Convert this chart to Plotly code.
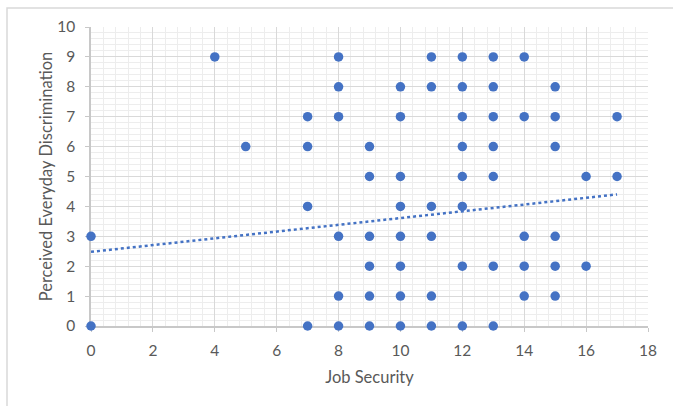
import plotly.graph_objects as go

# Survey responses: job security score vs perceived everyday discrimination
job_security = [
    4, 8, 11, 12, 13, 14,
    8, 10, 11, 12, 13, 15,
    7, 8, 10, 12, 13, 14, 15, 17,
    5, 7, 9, 12, 13, 15,
    9, 10, 12, 13, 16, 17,
    7, 10, 11, 12,
    0, 8, 9, 10, 11, 14, 15,
    9, 10, 12, 13, 14, 15, 16,
    8, 9, 10, 11, 14, 15,
    0, 7, 8, 9, 10, 11, 12, 13,
]
discrimination = (
    [9] * 6 + [8] * 6 + [7] * 8 + [6] * 6 + [5] * 6 + [4] * 4
    + [3] * 7 + [2] * 7 + [1] * 6 + [0] * 8
)

# Linear trendline fitted on the full (overlapping) sample
trend_intercept = 2.48
trend_slope = 0.113

x_ticks = list(range(0, 19, 2))
y_ticks = list(range(0, 11))

BLUE = "#4472C4"
TEXT = "#595959"
FONT = "Lato, 'Open Sans', sans-serif"

trend_x = [min(job_security), max(job_security)]
trend_y = [trend_intercept + trend_slope * v for v in trend_x]

fig = go.Figure()
fig.add_trace(go.Scatter(
    x=trend_x, y=trend_y, mode="lines",
    line=dict(color=BLUE, width=2.5, dash="dot"),
    showlegend=False,
))
fig.add_trace(go.Scatter(
    x=job_security, y=discrimination, mode="markers",
    marker=dict(color=BLUE, size=9.5, line=dict(width=0)),
    showlegend=False, cliponaxis=False,
))

grid_major = "#D9D9D9"
grid_minor = "#EDEDED"

fig.update_xaxes(
    range=[0, 18], tickvals=x_ticks, ticktext=[str(v) for v in x_ticks],
    showgrid=True, gridcolor=grid_major, gridwidth=1,
    minor=dict(dtick=0.4, tick0=0, showgrid=True, gridcolor=grid_minor, gridwidth=1),
    showline=True, linecolor="#C8C8C8", linewidth=1.5,
    ticks="outside", ticklen=4, tickcolor="#C8C8C8",
    ticklabelstandoff=6, layer="below traces",
    zeroline=False, tickfont=dict(family=FONT, size=15.5, color=TEXT),
    title=dict(text="Job Security", font=dict(family=FONT, size=16.5, color=TEXT), standoff=13),
)
fig.update_yaxes(
    range=[0, 10], tickvals=y_ticks, ticktext=[str(v) for v in y_ticks],
    showgrid=True, gridcolor=grid_major, gridwidth=1,
    minor=dict(dtick=0.2, tick0=0, showgrid=True, gridcolor=grid_minor, gridwidth=1),
    showline=True, linecolor="#C8C8C8", linewidth=1.5,
    ticks="outside", ticklen=4, tickcolor="#C8C8C8",
    ticklabelstandoff=7, layer="below traces",
    zeroline=False, tickfont=dict(family=FONT, size=15.5, color=TEXT),
    title=dict(text="Perceived Everyday Discrimination",
               font=dict(family=FONT, size=16.5, color=TEXT), standoff=0),
)

# Chart-area frame
fig.add_shape(
    type="rect", xref="paper", yref="paper",
    x0=-0.1508, x1=1.2, y0=-0.4, y1=1.0635,
    line=dict(color="#D9D9D9", width=1.5), fillcolor="rgba(0,0,0,0)", layer="below",
)

fig.update_layout(
    width=673, height=406,
    margin=dict(l=91, r=25, t=27, b=80),
    paper_bgcolor="white", plot_bgcolor="white",
    font=dict(family=FONT, color=TEXT),
)

fig.write_html("out.html")
